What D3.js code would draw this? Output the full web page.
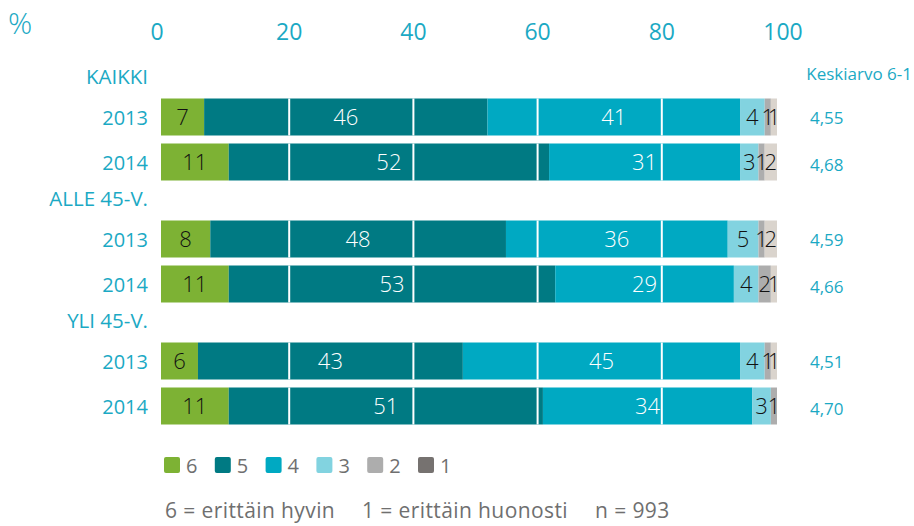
<!DOCTYPE html>
<html>
<head>
<meta charset="utf-8">
<script src="https://cdn.jsdelivr.net/npm/d3@7"></script>
<style>
  body { margin: 0; background: #fff; }
  svg text { font-family: "Open Sans", "Noto Sans", sans-serif; }
</style>
</head>
<body>
<svg id="chart"></svg>
<script>
// Groups and the two years inside each group
const groups = ['KAIKKI', 'ALLE 45-V.', 'YLI 45-V.'];
const years = ['2013', '2014'];

// Shares of answers 6..1 (%), one row per group/year, top to bottom
const grades = ['6', '5', '4', '3', '2', '1'];
const shares = [
    [7, 46, 41, 4, 1, 1],
    [11, 52, 31, 3, 1, 2],
    [8, 48, 36, 5, 1, 2],
    [11, 53, 29, 4, 2, 1],
    [6, 43, 45, 4, 1, 1],
    [11, 51, 34, 3, 1, 0]
];
const averages = ['4,55', '4,68', '4,59', '4,66', '4,51', '4,70'];

const ticks = [0, 20, 40, 60, 80, 100];
const gridTicks = [20, 40, 60, 80];

const barColors = ['#7db234', '#007a83', '#00a9c2', '#82d3e0', '#adadad', '#dad4cd'];
const legendColors = ['#7db234', '#007a83', '#00a9c2', '#82d3e0', '#adadad', '#767270'];
const labelColors = ['#111', '#fff', '#fff', '#111', '#111', '#111'];

const teal = '#1ba9c4';
const grey = '#6f6f6f';

const width = 914, height = 526;

const svg = d3.select('#chart')
    .attr('width', width)
    .attr('height', height);

// bar scale and (slightly shifted) axis/grid scale as in the original
const x = d3.scaleLinear().domain([0, 100]).range([161, 777]);
const gx = d3.scaleLinear().domain([0, 100]).range([165, 786]);

// vertical placement: group header centre + offset of each year bar
const gy = d3.scalePoint().domain(groups).range([77, 321]);
const inner = d3.scaleOrdinal().domain(['label'].concat(years)).range([0, 40, 85]);
const barH = 37;

const bars = [];
groups.forEach((g, gi) => {
    years.forEach((yr, yi) => {
        bars.push({ group: g, year: yr, vals: shares[gi * 2 + yi], avg: averages[gi * 2 + yi] });
    });
});
const cy = d => gy(d.group) + inner(d.year);

// % sign
svg.append('text')
    .attr('x', 8)
    .attr('y', 34)
    .attr('fill', teal)
    .attr('font-size', 30)
    .attr('font-weight', 300)
    .text('%');

// Axis tick labels
svg.append('g')
    .selectAll('text')
    .data(ticks)
    .enter().append('text')
        .attr('x', d => d === 0 ? gx(d) - 8 : (d === 100 ? gx(d) - 3 : gx(d)))
        .attr('y', 40)
        .attr('text-anchor', 'middle')
        .attr('fill', teal)
        .attr('font-size', 23)
        .text(d => d);

// Group labels
svg.append('g')
    .selectAll('text')
    .data(groups)
    .enter().append('text')
        .attr('x', 148)
        .attr('y', d => gy(d) + 7)
        .attr('text-anchor', 'end')
        .attr('fill', teal)
        .attr('font-size', 20.5)
        .text(d => d);

// Year labels
svg.append('g')
    .selectAll('text')
    .data(bars)
    .enter().append('text')
        .attr('x', 148)
        .attr('y', d => cy(d) + 8)
        .attr('text-anchor', 'end')
        .attr('fill', teal)
        .attr('font-size', 20)
        .text(d => d.year);

// Stacked bars
const stacked = bars.map(b => {
    let acc = 0;
    return b.vals.map((v, i) => {
        const s = { bar: b, i: i, v: v, x0: acc, x1: acc + v };
        acc += v;
        return s;
    });
});

const rowG = svg.append('g')
    .selectAll('g')
    .data(stacked)
    .enter().append('g');

rowG.selectAll('rect')
    .data(d => d)
    .enter().append('rect')
        .attr('x', d => x(d.x0))
        .attr('y', d => cy(d.bar) - barH / 2)
        .attr('width', d => x(d.x1) - x(d.x0))
        .attr('height', barH)
        .attr('fill', d => barColors[d.i]);

// White grid lines cutting the bars
svg.append('g')
    .selectAll('g')
    .data(bars)
    .enter().append('g')
    .selectAll('line')
    .data(b => gridTicks.map(t => ({ bar: b, t: t })))
    .enter().append('line')
        .attr('x1', d => gx(d.t))
        .attr('x2', d => gx(d.t))
        .attr('y1', d => cy(d.bar) - barH / 2)
        .attr('y2', d => cy(d.bar) + barH / 2)
        .attr('stroke', '#fff')
        .attr('stroke-width', 2);

// Segment values
rowG.selectAll('text')
    .data(d => d.filter(s => s.v > 0))
    .enter().append('text')
        .attr('x', d => (x(d.x0) + x(d.x1)) / 2)
        .attr('y', d => cy(d.bar) + 8)
        .attr('text-anchor', 'middle')
        .attr('fill', d => labelColors[d.i])
        .attr('font-size', 22)
        .attr('font-weight', 300)
        .text(d => d.v);

// Averages
svg.append('text')
    .attr('x', 912)
    .attr('y', 80)
    .attr('text-anchor', 'end')
    .attr('fill', teal)
    .attr('font-size', 17)
    .text('Keskiarvo 6-1');

svg.append('g')
    .selectAll('text')
    .data(bars)
    .enter().append('text')
        .attr('x', 810)
        .attr('y', d => cy(d) + 7 + (d.year === '2014' ? 2 : 0))
        .attr('fill', teal)
        .attr('font-size', 17)
        .text(d => d.avg);

// Legend
const legend = svg.append('g')
    .selectAll('g')
    .data(grades)
    .enter().append('g')
        .attr('transform', (d, i) => 'translate(' + (164 + i * 50.8) + ',457)');

legend.append('rect')
    .attr('width', 16)
    .attr('height', 16)
    .attr('rx', 2)
    .attr('fill', (d, i) => legendColors[i]);

legend.append('text')
    .attr('x', 22)
    .attr('y', 16)
    .attr('fill', grey)
    .attr('font-size', 20)
    .text(d => d);

// Footnote
const notes = [['6 = erittäin hyvin', 165], ['1 = erittäin huonosti', 362], ['n = 993', 595]];
svg.append('g')
    .selectAll('text')
    .data(notes)
    .enter().append('text')
        .attr('x', d => d[1])
        .attr('y', 518)
        .attr('fill', grey)
        .attr('font-size', 21)
        .attr('letter-spacing', 0.4)
        .text(d => d[0]);
</script>
</body>
</html>
